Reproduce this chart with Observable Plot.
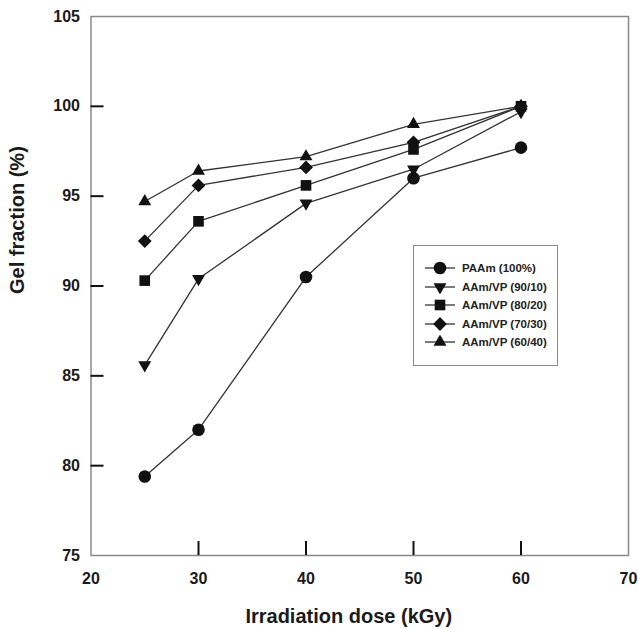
<!DOCTYPE html>
<html>
<head>
<meta charset="utf-8">
<script src="https://cdn.jsdelivr.net/npm/d3@7"></script>
<script src="https://cdn.jsdelivr.net/npm/@observablehq/plot@0.6"></script>
<style>
  html, body { margin: 0; padding: 0; background: #fff; }
  #wrap { position: relative; width: 638px; height: 629px; }
  #legend {
    position: absolute; left: 413px; top: 245px; width: 145px; height: 121px;
    border: 1.5px solid #8a8a8a; background: #fff; box-sizing: border-box;
    font-family: "Liberation Sans", Arial, sans-serif; font-weight: bold; font-size: 11.5px; color: #222;
    padding-top: 13px;
  }
  .row { display: flex; align-items: center; height: 18.5px; padding-left: 10px; }
  .row svg { margin-right: 7px; }
</style>
</head>
<body>
<div id="wrap"></div>
<script>
const doses = [25, 30, 40, 50, 60];
const seriesNames = ["PAAm (100%)", "AAm/VP (90/10)", "AAm/VP (80/20)", "AAm/VP (70/30)", "AAm/VP (60/40)"];
const paam   = [79.4, 82.0, 90.5, 96.0, 97.7];
const vp9010 = [85.6, 90.4, 94.6, 96.5, 99.7];
const vp8020 = [90.3, 93.6, 95.6, 97.6, 100.0];
const vp7030 = [92.5, 95.6, 96.6, 98.0, 100.0];
const vp6040 = [94.7, 96.4, 97.2, 99.0, 100.0];
const xTicks = [20, 30, 40, 50, 60, 70];
const yTicks = [75, 80, 85, 90, 95, 100, 105];
const xInner = [30, 40, 50, 60];
const yInner = [80, 85, 90, 95, 100];
const xTitle = "Irradiation dose (kGy)";
const yTitle = "Gel fraction (%)";

const seriesValues = [paam, vp9010, vp8020, vp7030, vp6040];
const symbols = ["circle", "triangle", "square", "diamond2", "triangle"];
const rotates = [0, 180, 0, 0, 0];
const radii = [6.3, 4.8, 6, 6.2, 4.8];

const W = 638, H = 629, mL = 90.5, mR = 10, mT = 16, mB = 74;
const frameW = W - mL - mR, frameH = H - mT - mB;

const rows = [];
seriesNames.forEach((name, i) => {
  doses.forEach((d, j) => rows.push({series: name, dose: d, gel: seriesValues[i][j], idx: i}));
});

const dotMarks = seriesNames.map((name, i) =>
  Plot.dot(rows.filter(r => r.idx === i), {
    x: "dose", y: "gel", symbol: () => symbols[i], r: radii[i], rotate: rotates[i],
    fill: "#111", stroke: "none"
  })
);

const font = "'Liberation Sans', Arial, sans-serif";

const chart = Plot.plot({
  width: W, height: H,
  marginLeft: mL, marginRight: mR, marginTop: mT, marginBottom: mB,
  style: {fontFamily: font, fontWeight: "bold", fontSize: "16px", color: "#1a1a1a", background: "#fff"},
  x: {domain: [20, 70]},
  y: {domain: [75, 105]},
  symbol: {type: "identity"},
  marks: [
    Plot.frame({stroke: "#8a8a8a", strokeWidth: 1.5}),
    Plot.axisX(xTicks, {tickSize: 0, tickPadding: 17, fontSize: 16, label: null}),
    Plot.axisY(yTicks, {tickSize: 0, tickPadding: 11, fontSize: 16, label: null}),
    Plot.tickX(xInner, {x: d => d, insetTop: frameH - 14, stroke: "#111", strokeWidth: 2}),
    Plot.tickY(yInner, {y: d => d, insetRight: frameW - 13, stroke: "#111", strokeWidth: 2}),
    Plot.line(rows, {x: "dose", y: "gel", z: "series", stroke: "#333", strokeWidth: 1.3}),
    ...dotMarks,
    Plot.text([xTitle], {text: d => d, frameAnchor: "bottom", dy: 61, dx: -11, fontSize: 20, fontWeight: "bold", lineAnchor: "middle", fill: "#1a1a1a"}),
    Plot.text([yTitle], {text: d => d, frameAnchor: "left", dx: -73, dy: 8, rotate: -90, fontSize: 20, fontWeight: "bold", lineAnchor: "middle", fill: "#1a1a1a"})
  ]
});

const wrap = document.getElementById("wrap");
wrap.appendChild(chart);

// legend overlay
const legend = document.createElement("div");
legend.id = "legend";
seriesNames.forEach((name, i) => {
  const row = document.createElement("div");
  row.className = "row";
  const svg = d3.create("svg").attr("width", 31).attr("height", 14);
  svg.append("line").attr("x1", 1).attr("x2", 31).attr("y1", 7).attr("y2", 7).attr("stroke", "#333").attr("stroke-width", 1.3);
  const symType = {circle: d3.symbolCircle, triangle: d3.symbolTriangle, square: d3.symbolSquare, diamond2: d3.symbolDiamond2}[symbols[i]];
  const size = Math.PI * radii[i] * radii[i];
  svg.append("path").attr("d", d3.symbol(symType, size)()).attr("fill", "#111")
    .attr("transform", `translate(16,7) rotate(${rotates[i]})`);
  row.appendChild(svg.node());
  const span = document.createElement("span");
  span.textContent = name;
  row.appendChild(span);
  legend.appendChild(row);
});
wrap.appendChild(legend);
</script>
</body>
</html>
